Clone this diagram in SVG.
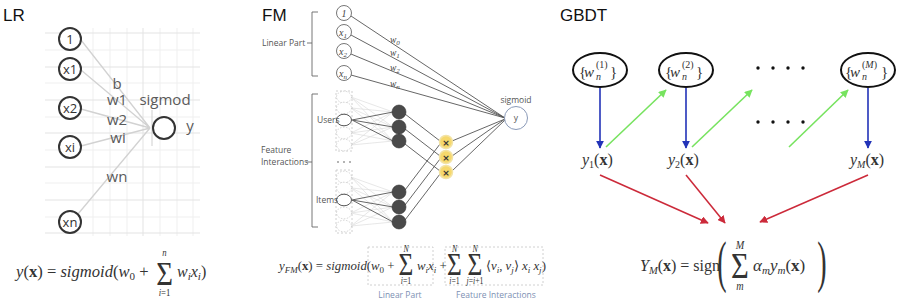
<svg xmlns="http://www.w3.org/2000/svg" width="900" height="301" viewBox="0 0 900 301">
<defs>
<style>
.title{font-family:"Liberation Sans",Arial,sans-serif;font-size:17px;fill:#111}
.lrl{font-family:"Open Sans","DejaVu Sans",sans-serif;font-size:15px;fill:#5a5a5a;text-anchor:middle}
.lrn{font-family:"Open Sans","DejaVu Sans",sans-serif;font-size:13px;fill:#333;text-anchor:middle}
.lrc{fill:#fff;stroke:#333;stroke-width:2}
.g1{stroke:#efefef;stroke-width:1}
.g2{stroke:#e3e3e3;stroke-width:1}
.lrline{stroke:#d2d2d2;stroke-width:1.3;fill:none}
.math{font-family:"Liberation Serif","Times New Roman",serif;fill:#333}
.sig{font-family:"Liberation Serif","Times New Roman",serif;fill:#333;text-anchor:middle}
.it{font-style:italic}
.bf{font-weight:bold}
.fml{font-family:"Open Sans","DejaVu Sans",sans-serif;font-size:8.5px;fill:#555}
.fmn{font-family:"Liberation Serif","Times New Roman",serif;font-style:italic;font-size:10px;fill:#444;text-anchor:middle}
.fmw{font-family:"Liberation Serif","Times New Roman",serif;font-style:italic;font-size:9.5px;fill:#444}
.lin{fill:#fff;stroke:#666;stroke-width:0.9}
.dash{fill:#fff;stroke:#c8c8c8;stroke-width:0.8;stroke-dasharray:1.5 1.5}
.hl{fill:#fff;stroke:#555;stroke-width:1}
.dark{fill:#4a4a4a;stroke:#333;stroke-width:0.6}
.lw{stroke:#555;stroke-width:0.9;fill:none}
.ll{stroke:#dcdcdc;stroke-width:0.7;fill:none}
.br{stroke:#666;stroke-width:0.9;fill:none}
.cross{fill:#f6d86c;stroke:#f3e3a4;stroke-width:1.5}
.box{fill:none;stroke:#c4c4c4;stroke-width:0.8;stroke-dasharray:2 2}
.cap{font-family:"Open Sans","DejaVu Sans",sans-serif;font-size:8.5px;fill:#7d90b3;text-anchor:middle}
.ell{fill:#fff;stroke:#111;stroke-width:2}
.blue{stroke:#2233b8;stroke-width:1.6;fill:none}
.green{stroke:#77e35f;stroke-width:1.6;fill:none}
.red{stroke:#cc2a3a;stroke-width:1.6;fill:none}
</style>
<marker id="mb" viewBox="0 0 10 10" refX="9" refY="5" markerUnits="userSpaceOnUse" markerWidth="8" markerHeight="8" orient="auto"><path d="M0,0 L10,5 L0,10 z" fill="#2233b8"/></marker>
<marker id="mg" viewBox="0 0 10 10" refX="9" refY="5" markerUnits="userSpaceOnUse" markerWidth="8" markerHeight="8" orient="auto"><path d="M0,0 L10,5 L0,10 z" fill="#77e35f"/></marker>
<marker id="mr" viewBox="0 0 10 10" refX="9" refY="5" markerUnits="userSpaceOnUse" markerWidth="8" markerHeight="8" orient="auto"><path d="M0,0 L10,5 L0,10 z" fill="#cc2a3a"/></marker>
</defs>
<rect width="900" height="301" fill="#fff"/>

<!-- ================= LR ================= -->
<text class="title" x="3" y="21">LR</text>
<g id="lr-grid">
<path class="g1" d="M93,28V236M110,28V236M127,28V236M160,28V236M177,28V236M193,28V236"/>
<path class="g1" d="M45,50H200M45,83H200M45,117H200M45,150H200M45,183H200M45,217H200"/>
<path class="g2" d="M45,33H200M45,67H200M45,100H200M45,133H200M45,167H200M45,200H200M45,233H200M143,28V236"/>
<path d="M152,110V146" stroke="#cfcfcf" stroke-width="1"/>
</g>
<g id="lr-connectors">
<path class="lrline" d="M81,40L150,128M81,70L150,128M81,109L150,128M81,146L150,128M78,214L150,128"/>
</g>
<g id="lr-n1"><circle class="lrc" cx="70" cy="39" r="11"/><text class="lrn" x="70" y="44">1</text></g>
<g id="lr-x1"><circle class="lrc" cx="70" cy="69" r="11"/><text class="lrn" x="70" y="74">x1</text></g>
<g id="lr-x2"><circle class="lrc" cx="70" cy="108" r="11"/><text class="lrn" x="70" y="113">x2</text></g>
<g id="lr-xi"><circle class="lrc" cx="70" cy="147" r="11"/><text class="lrn" x="70" y="152">xi</text></g>
<g id="lr-xn"><circle class="lrc" cx="70" cy="222" r="11"/><text class="lrn" x="70" y="227">xn</text></g>
<g id="lr-out"><circle class="lrc" cx="164" cy="128" r="11"/><text class="lrl" x="190" y="131">y</text></g>
<g id="lr-labels">
<text class="lrl" x="117" y="89">b</text>
<text class="lrl" x="117" y="105">w1</text>
<text class="lrl" x="117" y="125">w2</text>
<text class="lrl" x="118" y="143">wi</text>
<text class="lrl" x="117" y="182">wn</text>
<text class="lrl" x="165" y="105">sigmod</text>
</g>
<g id="lr-formula">
<text class="math" x="16" y="277" font-size="16.6"><tspan class="it">y</tspan>(<tspan class="bf">x</tspan>) = <tspan class="it">sigmoid</tspan>(<tspan class="it">w</tspan><tspan font-size="11" dy="3">0</tspan><tspan dy="-3"> +</tspan></text>
<text class="sig" transform="translate(164.5,285) scale(0.87,1)"><tspan x="0" y="0" font-size="33">Σ</tspan><tspan class="it" x="0" y="-29" font-size="10">n</tspan><tspan x="0" y="11" font-size="10"><tspan class="it">i</tspan>=1</tspan></text>
<text class="math" x="177" y="277" font-size="16"><tspan class="it">w</tspan><tspan class="it" font-size="11" dy="3">i</tspan><tspan class="it" dy="-3">x</tspan><tspan class="it" font-size="11" dy="3">i</tspan><tspan dy="-3">)</tspan></text>
</g>

<!-- ================= FM ================= -->
<text class="title" x="262" y="21">FM</text>
<g id="fm-brackets">
<path class="br" d="M318,12H312V76H318M312,43H307"/>
<text class="fml" x="262" y="46">Linear Part</text>
<path class="br" d="M318,94H312V227H318M312,162H306"/>
<text class="fml" x="261" y="153">Feature</text>
<text class="fml" x="261" y="165">Interactions</text>
</g>
<g id="fm-connectors">
<path class="lw" d="M351,16L505,118M351,35L505,118M351,54L505,118M351,75L505,118"/>
<path class="ll" d="M351,97L393,112M351,97L393,127M351,97L393,141M351,108L393,112M351,108L393,127M351,108L393,141M351,133L393,112M351,133L393,127M351,133L393,141M351,145L393,112M351,145L393,127M351,145L393,141"/>
<path class="ll" d="M351,177L393,192M351,177L393,207M351,177L393,222M351,188L393,192M351,188L393,207M351,188L393,222M351,213L393,192M351,213L393,207M351,213L393,222M351,226L393,192M351,226L393,207M351,226L393,222"/>
<path class="lw" d="M352,120L393,112M352,120L393,127M352,120L393,141M352,200L393,192M352,200L393,207M352,200L393,222"/>
<path class="lw" d="M405,114L440,141M405,129L440,156M405,144L440,171M405,190L440,144M405,205L440,159M405,220L440,174"/>
<path class="lw" d="M452,141L505,119M452,156L505,119M452,171L505,120"/>
</g>
<g id="fm-lin1"><circle class="lin" cx="344" cy="13" r="7.5"/><text class="fmn" x="344" y="16.5">1</text></g>
<g id="fm-linx1"><circle class="lin" cx="344" cy="32" r="7.5"/><text class="fmn" x="343" y="35.5">x<tspan font-size="7" dy="2">1</tspan></text></g>
<g id="fm-linx2"><circle class="lin" cx="344" cy="51" r="7.5"/><text class="fmn" x="343" y="54.5">x<tspan font-size="7" dy="2">2</tspan></text></g>
<g id="fm-linxn"><circle class="lin" cx="344" cy="73" r="7.5"/><text class="fmn" x="343" y="76.5">x<tspan font-size="7" dy="2">n</tspan></text></g>
<g id="fm-weights">
<text class="fmw" x="390" y="43">w<tspan font-size="7" dy="2">0</tspan></text>
<text class="fmw" x="390" y="56">w<tspan font-size="7" dy="2">1</tspan></text>
<text class="fmw" x="390" y="71">w<tspan font-size="7" dy="2">2</tspan></text>
<text class="fmw" x="390" y="87">w<tspan font-size="7" dy="2">n</tspan></text>
</g>
<g id="fm-users">
<rect class="box" x="336" y="91" width="16" height="60"/>
<ellipse class="dash" cx="344" cy="97" rx="7.5" ry="5.8"/>
<ellipse class="dash" cx="344" cy="108" rx="7.5" ry="5.8"/>
<ellipse class="dash" cx="344" cy="133" rx="7.5" ry="5.8"/>
<ellipse class="dash" cx="344" cy="145" rx="7.5" ry="5.8"/>
<ellipse class="hl" cx="344" cy="120" rx="7.5" ry="5.8"/>
<text class="fml" x="317" y="123">Users</text>
</g>
<g id="fm-dots">
<circle cx="338" cy="162" r="0.8" fill="#555"/><circle cx="344" cy="162" r="0.8" fill="#555"/><circle cx="350" cy="162" r="0.8" fill="#555"/>
</g>
<g id="fm-items">
<rect class="box" x="336" y="170" width="16" height="63"/>
<ellipse class="dash" cx="344" cy="177" rx="7.5" ry="5.8"/>
<ellipse class="dash" cx="344" cy="188" rx="7.5" ry="5.8"/>
<ellipse class="dash" cx="344" cy="213" rx="7.5" ry="5.8"/>
<ellipse class="dash" cx="344" cy="226" rx="7.5" ry="5.8"/>
<ellipse class="hl" cx="344" cy="200" rx="7.5" ry="5.8"/>
<text class="fml" x="316" y="203">Items</text>
</g>
<g id="fm-hidden-users">
<circle class="dark" cx="399" cy="112" r="7"/>
<circle class="dark" cx="399" cy="127" r="7"/>
<circle class="dark" cx="399" cy="141" r="7"/>
</g>
<g id="fm-hidden-items">
<circle class="dark" cx="399" cy="192" r="7"/>
<circle class="dark" cx="399" cy="207" r="7"/>
<circle class="dark" cx="399" cy="222" r="7"/>
</g>
<g id="fm-cross1"><circle class="cross" cx="446" cy="142" r="6.5"/><text x="446" y="145.5" font-family="DejaVu Sans,sans-serif" font-size="9" font-weight="bold" fill="#333" text-anchor="middle">×</text></g>
<g id="fm-cross2"><circle class="cross" cx="446" cy="157" r="6.5"/><text x="446" y="160.5" font-family="DejaVu Sans,sans-serif" font-size="9" font-weight="bold" fill="#333" text-anchor="middle">×</text></g>
<g id="fm-cross3"><circle class="cross" cx="446" cy="172" r="6.5"/><text x="446" y="175.5" font-family="DejaVu Sans,sans-serif" font-size="9" font-weight="bold" fill="#333" text-anchor="middle">×</text></g>
<g id="fm-sigmoid">
<circle cx="516" cy="118" r="11.5" fill="#fff" stroke="#8a9ab8" stroke-width="1"/>
<text class="fml" x="516" y="121" text-anchor="middle" font-size="8">y</text>
<text class="fml" x="516" y="103" text-anchor="middle" font-size="8">sigmoid</text>
</g>
<g id="fm-formula">
<rect class="box" x="368" y="247" width="65" height="38"/>
<rect class="box" x="445" y="247" width="98" height="38"/>
<text class="math" x="279" y="270" font-size="12.8"><tspan class="it">y</tspan><tspan class="it" font-size="9" dy="3">FM</tspan><tspan dy="-3">(</tspan><tspan class="bf">x</tspan>) = <tspan class="it">sigmoid</tspan>(<tspan class="it">w</tspan><tspan font-size="9" dy="3">0</tspan><tspan dy="-3"> +</tspan></text>
<text class="sig" transform="translate(406,275) scale(0.82,1)"><tspan x="0" y="0" font-size="31">Σ</tspan><tspan class="it" x="0" y="-23" font-size="9.5">N</tspan><tspan x="0" y="9" font-size="9.5"><tspan class="it">i</tspan>=1</tspan></text>
<text class="math" x="417" y="270" font-size="12.8"><tspan class="it">w</tspan><tspan class="it" font-size="9" dy="3">i</tspan><tspan class="it" dy="-3">x</tspan><tspan class="it" font-size="9" dy="3">i</tspan><tspan dy="-3"> +</tspan></text>
<text class="sig" transform="translate(454.5,275) scale(0.82,1)"><tspan x="0" y="0" font-size="31">Σ</tspan><tspan class="it" x="0" y="-23" font-size="9.5">N</tspan><tspan x="0" y="9" font-size="9.5"><tspan class="it">i</tspan>=1</tspan></text>
<text class="sig" transform="translate(475,275) scale(0.82,1)"><tspan x="0" y="0" font-size="31">Σ</tspan><tspan class="it" x="0" y="-23" font-size="9.5">N</tspan><tspan x="0" y="9" font-size="9.5"><tspan class="it">j</tspan>=<tspan class="it">i</tspan>+1</tspan></text>
<text class="math" x="486" y="270" font-size="12.8">⟨<tspan class="it">v</tspan><tspan class="it" font-size="9" dy="3">i</tspan><tspan dy="-3">, </tspan><tspan class="it">v</tspan><tspan class="it" font-size="9" dy="3">j</tspan><tspan dy="-3">⟩ </tspan><tspan class="it">x</tspan><tspan class="it" font-size="9" dy="3">i</tspan><tspan class="it" dy="-3"> x</tspan><tspan class="it" font-size="9" dy="3">j</tspan><tspan dy="-3">)</tspan></text>
<text class="cap" x="400" y="298">Linear Part</text>
<text class="cap" x="496" y="298">Feature Interactions</text>
</g>

<!-- ================= GBDT ================= -->
<text class="title" x="560" y="21">GBDT</text>
<g id="gbdt-connectors">
<path class="blue" marker-end="url(#mb)" d="M600,88V148"/>
<path class="blue" marker-end="url(#mb)" d="M686,88V148"/>
<path class="blue" marker-end="url(#mb)" d="M868,88V148"/>
<path class="green" marker-end="url(#mg)" d="M606,147L666,90"/>
<path class="green" marker-end="url(#mg)" d="M692,147L752,90"/>
<path class="green" marker-end="url(#mg)" d="M789,147L848,90"/>
<path class="red" marker-end="url(#mr)" d="M600,175L708,223"/>
<path class="red" marker-end="url(#mr)" d="M686,175L725,223"/>
<path class="red" marker-end="url(#mr)" d="M868,175L760,222"/>
</g>
<g id="gbdt-w1">
<ellipse class="ell" cx="600" cy="70" rx="27" ry="17"/>
<text class="math" x="579" y="77" font-size="15">{<tspan class="it" x="584">w</tspan><tspan class="it" x="596" y="80" font-size="10">n</tspan><tspan x="596" y="68" font-size="10">(1)</tspan><tspan x="610" y="77">}</tspan></text>
</g>
<g id="gbdt-w2">
<ellipse class="ell" cx="686" cy="70" rx="27" ry="17"/>
<text class="math" x="665" y="77" font-size="15">{<tspan class="it" x="670">w</tspan><tspan class="it" x="682" y="80" font-size="10">n</tspan><tspan x="682" y="68" font-size="10">(2)</tspan><tspan x="696" y="77">}</tspan></text>
</g>
<g id="gbdt-wM">
<ellipse class="ell" cx="868" cy="70" rx="27" ry="17"/>
<text class="math" x="845" y="77" font-size="15">{<tspan class="it" x="850">w</tspan><tspan class="it" x="862" y="80" font-size="10">n</tspan><tspan x="862" y="68" font-size="10">(<tspan class="it">M</tspan>)</tspan><tspan x="881" y="77">}</tspan></text>
</g>
<g id="gbdt-dots">
<circle cx="758" cy="68" r="1.7" fill="#111"/><circle cx="773" cy="68" r="1.7" fill="#111"/><circle cx="788" cy="68" r="1.7" fill="#111"/><circle cx="803" cy="68" r="1.7" fill="#111"/>
<circle cx="758" cy="122" r="1.7" fill="#111"/><circle cx="773" cy="122" r="1.7" fill="#111"/><circle cx="788" cy="122" r="1.7" fill="#111"/><circle cx="803" cy="122" r="1.7" fill="#111"/>
</g>
<g id="gbdt-y1"><text class="math" x="582" y="165" font-size="16"><tspan class="it">y</tspan><tspan font-size="10" dy="3">1</tspan><tspan dy="-3">(</tspan><tspan class="bf">x</tspan>)</text></g>
<g id="gbdt-y2"><text class="math" x="668" y="165" font-size="16"><tspan class="it">y</tspan><tspan font-size="10" dy="3">2</tspan><tspan dy="-3">(</tspan><tspan class="bf">x</tspan>)</text></g>
<g id="gbdt-yM"><text class="math" x="850" y="165" font-size="16"><tspan class="it">y</tspan><tspan class="it" font-size="10" dy="3">M</tspan><tspan dy="-3">(</tspan><tspan class="bf">x</tspan>)</text></g>
<g id="gbdt-formula">
<text class="math" x="640" y="271" font-size="16"><tspan class="it">Y</tspan><tspan class="it" font-size="10.5" dy="3">M</tspan><tspan dy="-3">(</tspan><tspan class="bf">x</tspan>) = sign</text>
<text class="math" transform="translate(722,281) scale(0.5,1)" font-size="56" text-anchor="middle">(</text>
<text class="sig" transform="translate(740,278) scale(0.85,1)"><tspan x="0" y="0" font-size="36">Σ</tspan><tspan class="it" x="0" y="-29" font-size="12">M</tspan><tspan class="it" x="0" y="12" font-size="12">m</tspan></text>
<text class="math" x="753" y="271" font-size="17"><tspan class="it">α</tspan><tspan class="it" font-size="11" dy="3">m</tspan><tspan class="it" dy="-3">y</tspan><tspan class="it" font-size="11" dy="3">m</tspan><tspan dy="-3">(</tspan><tspan class="bf">x</tspan>)</text>
<text class="math" transform="translate(822,281) scale(0.5,1)" font-size="56" text-anchor="middle">)</text>
</g>
</svg>
